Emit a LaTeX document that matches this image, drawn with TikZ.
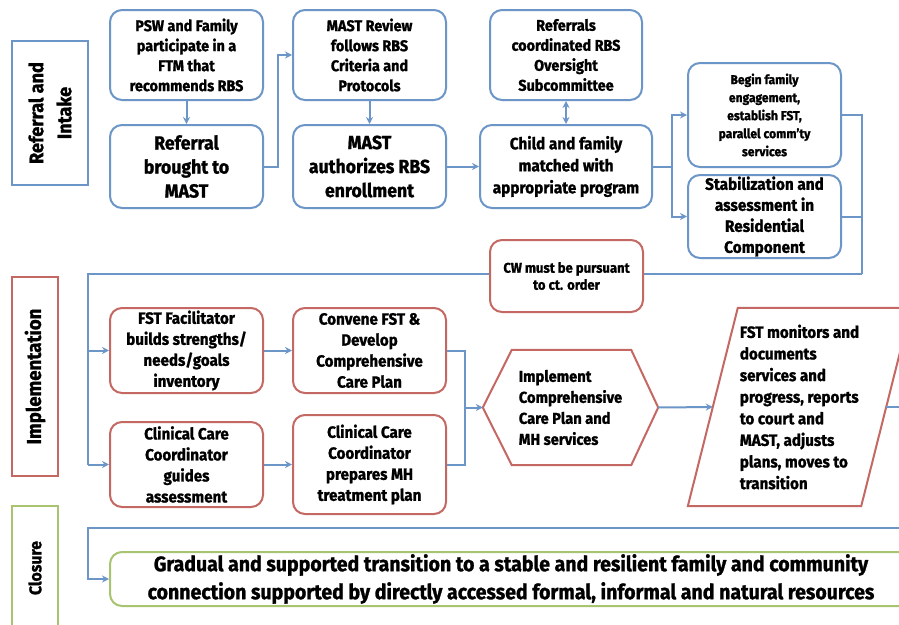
\documentclass[tikz,border=0pt]{standalone}
\usepackage{fontspec}
\setmainfont{Fira Sans}[FakeStretch=0.93, BoldFont={Fira Sans Bold}, BoldFeatures={FakeBold=1.2}]
\usetikzlibrary{arrows.meta,calc}
\definecolor{bl}{RGB}{108,150,200}
\definecolor{rd}{RGB}{196,104,100}
\definecolor{gn}{RGB}{168,196,112}
\newcommand{\fsz}[2]{\fontsize{#1}{#2}\selectfont}
\begin{document}
\begin{tikzpicture}[x=1pt,y=-1pt,
  bx/.style={draw=bl, line width=2pt, rounded corners=12pt, fill=white, align=center, inner sep=1pt, text=black},
  rx/.style={bx, draw=rd},
  gx/.style={bx, draw=gn},
  ph/.style={line width=2pt, rotate=90, align=center, inner sep=1pt, fill=white},
  ln/.style={draw=bl, line width=2pt},
  arr/.style={ln, -{Stealth[length=7pt,width=7pt]}},
  darr/.style={ln, {Stealth[length=7pt,width=7pt]}-{Stealth[length=7pt,width=7pt]}},
  fa/.style={font=\bfseries\fsz{15.5}{20}},
  fb/.style={font=\bfseries\fsz{19}{24}},
  fi/.style={font=\bfseries\fsz{16.3}{21}}]
\useasboundingbox (0,0) rectangle (899,624);
\clip (0,0) rectangle (899,624);
\fill[white] (0,0) rectangle (899,624);

% phase labels
\node[ph, draw=bl, minimum width=144pt, minimum height=76pt, font=\bfseries\fsz{19.5}{28}] (P1) at (50,113) {Referral and\\Intake};
\node[ph, draw=rd, minimum width=199pt, minimum height=46pt, font=\bfseries\fsz{20}{24}] (P2) at (35,376.5) {Implementation};
\node[ph, draw=gn, minimum width=124pt, minimum height=46pt, font=\bfseries\fsz{17}{22}] (P3) at (35,568) {Closure};

% row 1
\node[bx, fa, minimum width=153pt, minimum height=90pt] (A) at (186.5,55) {PSW and Family\\participate in a\\FTM that\\recommends RBS};
\node[bx, fb, minimum width=153pt, minimum height=83pt] (B) at (186.5,166.5) {Referral\\brought to\\MAST};
\node[bx, fa, minimum width=153pt, minimum height=90pt] (C) at (369.5,55) {MAST Review\\follows RBS\\Criteria and\\Protocols};
\node[bx, fb, minimum width=153pt, minimum height=83pt] (D) at (369.5,166.5) {MAST\\authorizes RBS\\enrollment};
\node[bx, fa, minimum width=152pt, minimum height=90pt] (E) at (566,55) {Referrals\\coordinated RBS\\Oversight\\Subcommittee};
\node[bx, font=\bfseries\fsz{16.5}{22}, minimum width=172pt, minimum height=83pt] (F) at (566,166.5) {Child and family\\matched with\\appropriate program};
\node[bx, font=\bfseries\fsz{13}{18}, minimum width=153pt, minimum height=104pt] (G) at (764.5,115) {Begin family\\engagement,\\establish FST,\\parallel comm'ty\\services};
\node[bx, font=\bfseries\fsz{16.5}{21}, minimum width=153pt, minimum height=83pt] (H) at (764.5,216.5) {Stabilization and\\assessment in\\Residential\\Component};

% connectors row 1
\draw[arr] (A.south) -- (B.north);
\draw[arr] (B.east) -- ++(14,0) |- (C.west);
\draw[arr] (C.south) -- (D.north);
\draw[arr] (D.east) -- (F.west);
\draw[darr] (E.south) -- (F.north);
\coordinate (fs) at (672,166.5);
\draw[ln] (F.east) -- (fs);
\draw[arr] (fs) |- (G.west);
\draw[arr] (fs) |- (H.west);
\coordinate (r1) at (862,274);
\coordinate (l1) at (88,274);
\coordinate (l2) at (88,464.5);
\coordinate (li) at (88,350.5);
\draw[ln] (G.east) -| (r1);
\draw[ln] (H.east) -- (H.east -| r1);

% implementation
\node[rx, font=\bfseries\fsz{14}{17}, minimum width=153pt, minimum height=72pt] (CW) at (566.5,276) {CW must be pursuant\\to ct. order};
\draw[ln] (r1) -- (r1 -| CW.east);
\draw[ln] (CW.west |- l1) -- (l1) -- (l2);

\node[rx, fi, minimum width=153pt, minimum height=85pt] (I) at (186.5,350.5) {FST Facilitator\\builds strengths/\\needs/goals\\inventory};
\node[rx, fi, minimum width=153pt, minimum height=85pt] (J) at (369.5,350.5) {Convene FST \&\\Develop\\Comprehensive\\Care Plan};
\node[rx, fi, minimum width=153pt, minimum height=85pt] (K) at (186.5,464.5) {Clinical Care\\Coordinator\\guides\\assessment};
\node[rx, fi, minimum width=153pt, minimum height=99pt] (L) at (369.5,464.5) {Clinical Care\\Coordinator\\prepares MH\\treatment plan};

\draw[arr] (li) -- (I.west);
\draw[arr] (l2) -- (K.west);
\draw[arr] (I.east) -- (J.west);
\draw[arr] (K.east) -- (L.west);

\node[minimum width=175pt, minimum height=115pt, inner sep=0pt, align=left, font=\bfseries\fsz{15.8}{21}] (M) at (570.5,407.5) {Implement\\Comprehensive\\Care Plan and\\MH services};
\draw[draw=rd, line width=2pt] (M.west) -- ($(M.north west)+(29,0)$) -- ($(M.north east)+(-27,0)$) -- (M.east) -- ($(M.south east)+(-27,0)$) -- ($(M.south west)+(29,0)$) -- cycle;

\coordinate (jl) at (465,407.5);
\draw[ln] (J.east) -| (jl);
\draw[ln] (L.east) -| (jl);
\draw[arr] (jl) -- (M.west);

\node[minimum width=173pt, minimum height=198pt, inner sep=0pt, align=left, font=\bfseries\fsz{16.3}{21.6}] (N) at (799.5,407) {FST monitors and\\documents\\services and\\progress, reports\\to court and\\MAST, adjusts\\plans, moves to\\transition};
\draw[draw=rd, line width=2pt] ($(N.north west)+(25,0)$) -- ($(N.north east)+(25,0)$) -- ($(N.south east)+(-25,0)$) -- ($(N.south west)+(-25,0)$) -- cycle;
\draw[arr] (M.east) -- (N.west);
\coordinate (xr) at (905,407);
\draw[ln] (N.east) -- (xr);

% closure
\node[gx, font=\bfseries\fsz{21}{28}, minimum width=802pt, minimum height=54pt] (O) at (511,579) {Gradual and supported transition to a stable and resilient family and community\\connection supported by directly accessed formal, informal and natural resources};
\coordinate (c1) at (905,528);
\coordinate (c2) at (88,528);
\draw[arr] (c1) -- (c2) |- (O.west);
\end{tikzpicture}
\end{document}
